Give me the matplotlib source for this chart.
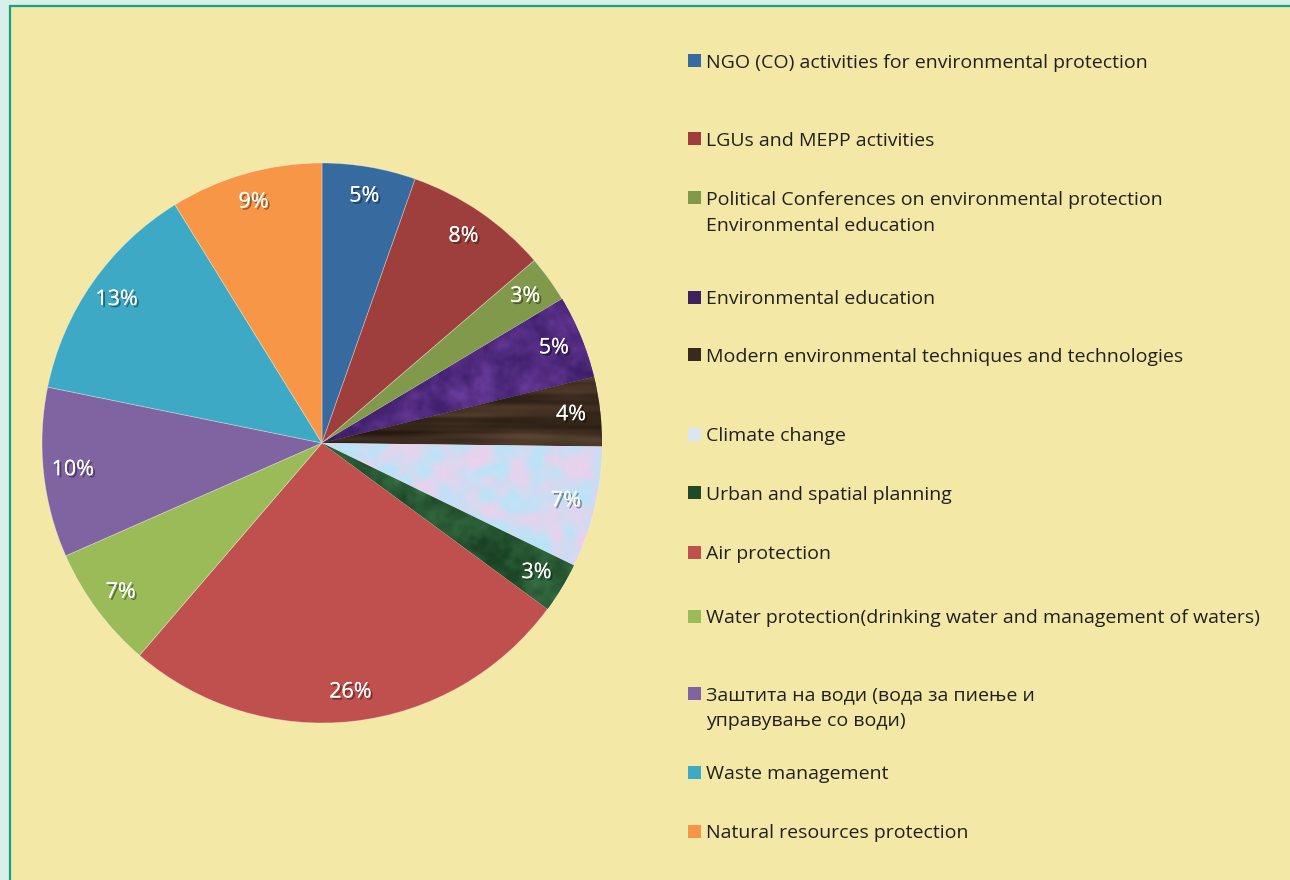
import numpy as np
import matplotlib
matplotlib.use("Agg")
import matplotlib.pyplot as plt
from matplotlib.patches import Rectangle
import matplotlib.patheffects as pe

# ---- data ----
categories = [
    "NGO (CO) activities for environmental protection",
    "LGUs and MEPP activities",
    "Political Conferences on environmental protection\nEnvironmental education",
    "Environmental education",
    "Modern environmental techniques and technologies",
    "Climate change",
    "Urban and spatial planning",
    "Air protection",
    "Water protection(drinking water and management of waters)",
    "Заштита на води (вода за пиење и\nуправување со води)",
    "Waste management",
    "Natural resources protection",
]
values = [5.4, 8.3, 2.7, 4.8, 4.0, 7.0, 2.9, 26.2, 7.1, 9.8, 13.0, 8.8]
colors = ["#376A9F", "#9E3F3D", "#80994A", "#4A2878", "#3B2A1F", "#D6E2F1",
          "#1F4B2B", "#C0504D", "#9BBB59", "#8064A2", "#3DA9C4", "#F79646"]
marker_colors = ["#376A9F", "#9E3F3D", "#80994A", "#3F2160", "#3A2A1E", "#DCE6F2",
                 "#1E4A2A", "#C0504D", "#9BBB59", "#8064A2", "#3DA9C4", "#F79646"]
legend_y = [61, 139, 198, 297, 355, 434, 493, 552, 616, 693, 772, 831]  # px from top

W, H = 1290, 880
plt.rcParams['font.family'] = ['Open Sans', 'DejaVu Sans']
fig = plt.figure(figsize=(W / 100, H / 100), dpi=100, facecolor="#D9EFE9")

# panel
fig.patches.append(Rectangle((10 / W, -0.01), 1.02, (H - 6) / H + 0.01, transform=fig.transFigure,
                             facecolor="#F3E8A6", edgecolor="#16A385", linewidth=1.6, zorder=-5))

cx, cy, r = 322, 443, 280
ax = fig.add_axes([(cx - r) / W, (H - cy - r) / H, 2 * r / W, 2 * r / H])
ax.set_zorder(2)
ax.set_xlim(-1, 1)
ax.set_ylim(-1, 1)
ax.set_aspect("equal")
ax.axis("off")

wedges, texts, autotexts = ax.pie(
    values, colors=colors, startangle=90, counterclock=False, radius=1,
    autopct=lambda p: f"{p:.0f}%", pctdistance=0.895,
    wedgeprops=dict(edgecolor=(1, 1, 1, 0.35), linewidth=0.6),
    textprops=dict(color="white", fontsize=15.5))
for t in autotexts:
    t.set_path_effects([pe.withSimplePatchShadow(offset=(1.5, -1.5), shadow_rgbFace="black", alpha=0.4),
                        pe.Normal()])
    t.set_zorder(5)

# ---- textures (style only) ----
rng = np.random.default_rng(7)


def smooth_noise(n, sy, sx):
    z = rng.standard_normal((n, n))
    fy = np.fft.fftfreq(n)[:, None]
    fx = np.fft.fftfreq(n)[None, :]
    g = np.exp(-((fy * sy) ** 2 + (fx * sx) ** 2) * 2 * np.pi ** 2)
    out = np.real(np.fft.ifft2(np.fft.fft2(z) * g))
    out = (out - out.min()) / (out.max() - out.min())
    return out


def contrast(t, k):
    return np.clip((t - t.mean()) * k + 0.5, 0, 1)


def blend(c1, c2, t):
    c1 = np.array(matplotlib.colors.to_rgb(c1))
    c2 = np.array(matplotlib.colors.to_rgb(c2))
    return c1[None, None, :] * (1 - t[..., None]) + c2[None, None, :] * t[..., None]


N = 400
tex = {}
n1 = smooth_noise(N, 4, 4) * 0.6 + smooth_noise(N, 1.5, 1.5) * 0.4
tex[3] = blend("#30155A", "#6A3C9C", contrast(n1, 1.5))
n2 = smooth_noise(N, 1.2, 40) * 0.7 + smooth_noise(N, 3, 12) * 0.3
tex[4] = blend("#24180F", "#5A4332", contrast(n2, 1.5))
n3a = contrast(smooth_noise(N, 4, 4), 3.0)
n3b = smooth_noise(N, 1.5, 1.5)
c3 = blend("#B4E0F6", "#E8CCEA", n3a)
tex[5] = c3 * 0.8 + blend("#D0E6F6", "#F4F2FA", n3b) * 0.2
n4 = smooth_noise(N, 5, 5) * 0.7 + smooth_noise(N, 1.5, 1.5) * 0.3
tex[6] = blend("#12361C", "#3F7C4C", contrast(n4, 1.5))

for i, img in tex.items():
    im = ax.imshow(img, extent=[-1, 1, -1, 1], zorder=wedges[i].get_zorder() + 0.1,
                   interpolation="bilinear")
    im.set_clip_path(wedges[i])
ax.set_xlim(-1, 1)
ax.set_ylim(-1, 1)

# ---- legend ----
for lab, y, mc in zip(categories, legend_y, marker_colors):
    fig.patches.append(Rectangle((688 / W, 1 - (y + 6.5) / H), 13 / W, 13 / H,
                                 transform=fig.transFigure, facecolor=mc, edgecolor="none", zorder=3))
    fig.text(706 / W, 1 - (y - 7) / H, lab, fontsize=14, color="#231F20", va="top", ha="left",
             linespacing=1.6)

fig.savefig("out.png", dpi=100, facecolor=fig.get_facecolor())
